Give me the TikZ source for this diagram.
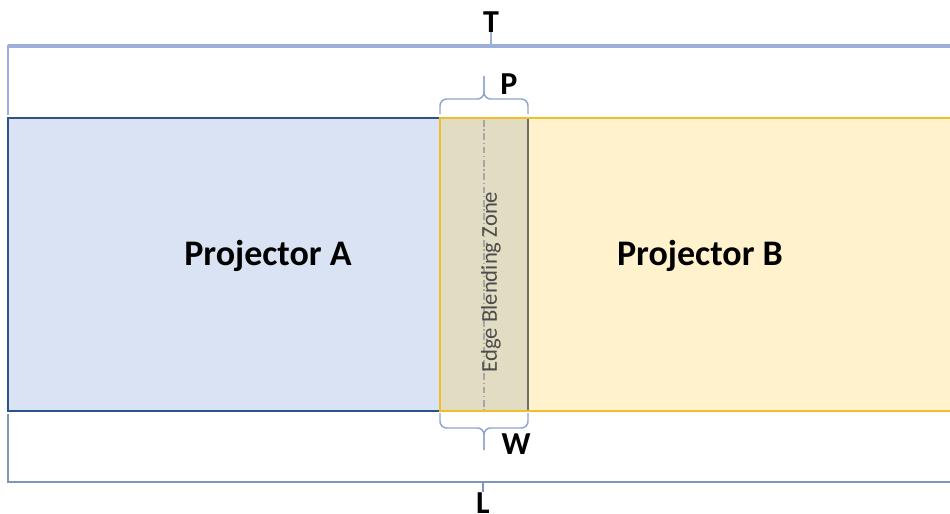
\documentclass[tikz,border=0pt]{standalone}
\usepackage{fontspec}
\setmainfont{Carlito}
\definecolor{blueFill}{HTML}{DAE3F3}
\definecolor{blueLine}{HTML}{2F528F}
\definecolor{yellowFill}{HTML}{FFF2CC}
\definecolor{yellowLine}{HTML}{F0BE2A}
\definecolor{zoneFill}{HTML}{E2DCC3}
\definecolor{zoneLine}{HTML}{6B6E66}
\definecolor{frameLine}{HTML}{9DAEDA}
\definecolor{frameLow}{HTML}{7F96B8}
\definecolor{braceLine}{HTML}{8EA5CF}
\tikzset{
    lbl/.style={font=\bfseries\fontsize{24}{24}\selectfont, inner sep=0pt},
    proj/.style={font=\bfseries\fontsize{27}{27}\selectfont, inner sep=0pt},
    brc/.style={braceLine, line width=1.1pt, rounded corners=5pt}
}
\begin{document}
\begin{tikzpicture}[x=0.75pt, y=-0.75pt]
    \useasboundingbox (0,0) rectangle (950,514);
    \clip (0,0) rectangle (950,514);

    % projector areas
    \fill[blueFill] (8,118) rectangle (528,411);
    \draw[blueLine, line width=2.2pt] (8,118) rectangle (528,411);
    \fill[yellowFill] (440,118) rectangle (960,411);
    \fill[zoneFill] (440,118) rectangle (528,411);
    \draw[zoneLine, line width=2pt] (528,118) -- (528,411);
    \draw[yellowLine, line width=2pt] (440,118) rectangle (960,411);
    \draw[gray!70, line width=1pt, dash pattern=on 5pt off 2pt on 1pt off 2pt] (484,120) -- (484,410);

    \node[proj] (projA) at (268,256) {Projector A};
    \node[proj] (projB) at (700,256) {Projector B};
    \node[font=\fontsize{17}{17}\selectfont, text=black!70, rotate=90, inner sep=0pt] (zone) at (491,282) {Edge Blending Zone};

    % total width and length
    \coordinate (topL) at (8,115);
    \coordinate (topM) at (491,46);
    \coordinate (botL) at (8,414);
    \coordinate (botM) at (483,482);
    \node[lbl, anchor=north] (T) at (491,11) {T};
    \node[lbl, anchor=north] (L) at (483,492) {L};
    \draw[frameLine, line width=1pt] (topL) |- (960,46);
    \draw[frameLine, line width=2.5pt] (8,46) -- (960,46);
    \draw[frameLine, line width=1pt] (topM) -- (T.south);
    \draw[frameLow, line width=1.2pt] (botL) |- (960,482);
    \draw[frameLow, line width=1.2pt] (botM) -- (L.north);

    % braces
    \coordinate (pTip) at (484,76);
    \coordinate (wTip) at (484,450);
    \node[lbl] (P) at (509,84) {P};
    \node[lbl] (W) at (516,444) {W};
    \draw[brc] (440,114) |- (462,99) -| (pTip);
    \draw[brc] (528,114) |- (506,99) -| (pTip);
    \draw[brc] (440,413) |- (462,428) -| (wTip);
    \draw[brc] (528,413) |- (506,428) -| (wTip);
\end{tikzpicture}
\end{document}
